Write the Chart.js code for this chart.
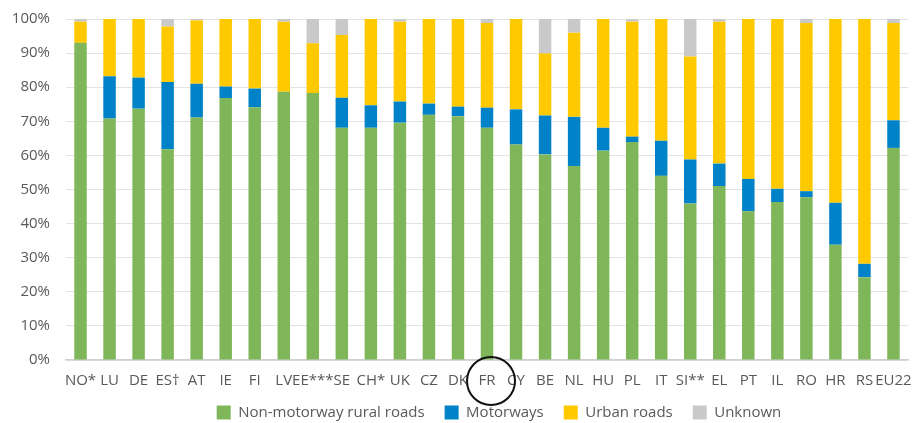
<!DOCTYPE html>
<html lang="en">
<head>
    <meta charset="UTF-8">
    <title>Road fatalities by road type</title>
    <script src="https://cdn.jsdelivr.net/npm/chart.js"></script>
    <style>
        body { margin: 0; background: #fff; }
        #wrap { width: 921px; height: 423px; }
    </style>
</head>
<body>
    <div id="wrap">
        <canvas id="myChart" width="921" height="423"></canvas>
    </div>
    <script>
        const countries = ['NO*', 'LU', 'DE', 'ES\u2020', 'AT', 'IE', 'FI', 'LV', 'EE***', 'SE', 'CH*', 'UK', 'CZ', 'DK', 'FR',
            'CY', 'BE', 'NL', 'HU', 'PL', 'IT', 'SI**', 'EL', 'PT', 'IL', 'RO', 'HR', 'RS', 'EU22'];

        // shares in %
        const rural = [93.0, 70.8, 73.7, 61.8, 71.1, 76.8, 74.1, 78.7, 78.3, 68.1, 68.1, 69.6, 71.9, 71.5, 68.1,
            63.2, 60.3, 56.9, 61.4, 63.9, 54.0, 45.9, 51.0, 43.6, 46.3, 47.7, 33.8, 24.3, 62.2];
        const motorways = [0, 12.4, 9.1, 19.7, 9.9, 3.4, 5.5, 0, 0, 8.8, 6.6, 6.2, 3.3, 2.8, 5.9,
            10.3, 11.4, 14.4, 6.7, 1.6, 10.3, 12.9, 6.6, 9.5, 3.9, 1.8, 12.3, 3.9, 8.1];
        const urban = [6.2, 16.8, 17.2, 16.3, 18.6, 19.8, 20.4, 20.5, 14.6, 18.4, 25.3, 23.4, 24.8, 25.7, 24.8,
            26.5, 18.2, 24.7, 31.9, 33.7, 35.7, 30.2, 41.6, 46.9, 49.8, 49.3, 53.9, 71.8, 28.5];
        const unknown = [0.8, 0, 0, 2.2, 0.4, 0, 0, 0.8, 7.1, 4.7, 0, 0.8, 0, 0, 1.2,
            0, 10.1, 4.0, 0, 0.8, 0, 11.0, 0.8, 0, 0, 1.2, 0, 0, 1.2];

        const yTicks = [0, 10, 20, 30, 40, 50, 60, 70, 80, 90, 100];
        const highlighted = 'FR';

        const ringPlugin = {
            id: 'ring',
            beforeDraw(chart) {
                // legend sits a bit right of centre in the original
                if (!chart.$legendMoved) {
                    chart.legend.left += 12;
                    chart.legend.right += 12;
                    chart.$legendMoved = true;
                }
            },
            // black ring round the highlighted country label
            afterDraw(chart) {
                const x = chart.scales.x.getPixelForValue(countries.indexOf(highlighted)) + 4;
                const y = chart.chartArea.bottom + 21;
                const ctx = chart.ctx;
                ctx.save();
                ctx.beginPath();
                ctx.arc(x, y, 24, 0, Math.PI * 2);
                ctx.lineWidth = 2;
                ctx.strokeStyle = '#111';
                ctx.stroke();
                ctx.restore();
            }
        };

        const ctx = document.getElementById('myChart').getContext('2d');
        const myChart = new Chart(ctx, {
            type: 'bar',
            data: {
                labels: countries,
                datasets: [
                    { label: 'Non-motorway rural roads', data: rural, backgroundColor: '#80b65a' },
                    { label: 'Motorways', data: motorways, backgroundColor: '#0082c8' },
                    { label: 'Urban roads', data: urban, backgroundColor: '#ffc900' },
                    { label: 'Unknown', data: unknown, backgroundColor: '#c9c9c9' }
                ]
            },
            options: {
                responsive: false,
                animation: false,
                layout: { padding: { left: 0, right: 13, top: 19, bottom: -7 } },
                datasets: { bar: { categoryPercentage: 1, barPercentage: 0.43, borderWidth: 0 } },
                plugins: {
                    tooltip: { enabled: false },
                    legend: {
                        position: 'bottom',
                        fullSize: false,
                        labels: {
                            boxWidth: 14,
                            boxHeight: 14,
                            padding: 20,
                            color: '#595959',
                            font: { family: 'Open Sans', size: 15 }
                        }
                    }
                },
                scales: {
                    x: {
                        stacked: true,
                        grid: { drawOnChartArea: false, drawTicks: true, tickLength: 12, tickColor: 'rgba(0,0,0,0)' },
                        border: { color: '#d0d0d0', width: 1.5 },
                        ticks: {
                            autoSkip: false,
                            maxRotation: 0,
                            padding: 0,
                            color: '#595959',
                            font: { family: 'Open Sans', size: 15 }
                        },
                        afterFit(axis) { axis.height = 25; }
                    },
                    y: {
                        stacked: true,
                        min: 0,
                        max: 100,
                        afterBuildTicks(axis) { axis.ticks = yTicks.map(v => ({ value: v })); },
                        grid: { color: '#e3e3e3', drawTicks: true, tickLength: 16, tickColor: 'rgba(0,0,0,0)' },
                        border: { display: false },
                        ticks: {
                            padding: 0,
                            color: '#595959',
                            font: { family: 'Open Sans', size: 15 },
                            callback: v => v + '%'
                        },
                        afterFit(axis) { axis.width = 66; }
                    }
                }
            },
            plugins: [ringPlugin]
        });
    </script>
</body>
</html>
